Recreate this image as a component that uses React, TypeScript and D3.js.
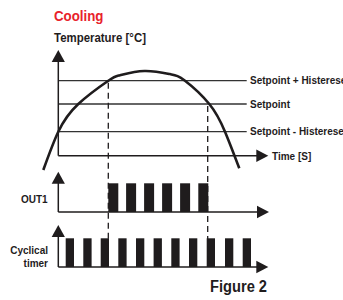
import React from "react";
import * as d3 from "d3";

// ---- data (time units ~ seconds, temperature in arbitrary units) ----
const levelNames = ["Setpoint + Histerese", "Setpoint", "Setpoint - Histerese"];
const levelValues = [75, 51.7, 24];
const curveTimes = [-15, 0, 20, 50, 61.7, 86, 111.7, 126.7, 151, 166.7, 181];
const curveTemps = [-14.3, 24, 51.7, 75, 80.5, 84.7, 81.6, 75, 51.7, 24, -12.6];
const switchTimes = [50, 149.4];
const out1Starts = [50, 67.8, 85.8, 103.8, 121.8, 140];
const out1Width = 10;
const cycStarts = [7.4, 25, 42.4, 60, 77.7, 95.3, 113, 130.7, 148.4, 166.7, 184.4];
const cycWidth = 8.3;

const W = 343;
const H = 300;
const X0 = 58.3;
const ink = "#1f1c1d";
const FONT = "'Liberation Sans', Arial, sans-serif";

export default function App() {
  const x = d3.scaleLinear().domain([0, 210]).range([X0, X0 + 210]);
  const y = d3.scaleLinear().domain([0, 105.7]).range([155.7, 50]);
  const yOut = d3.scaleLinear().domain([0, 1]).range([212, 183.3]);
  const yCyc = d3.scaleLinear().domain([0, 1]).range([267, 238.3]);

  const line = d3
    .line<number>()
    .x((_, i) => x(curveTimes[i]))
    .y((d) => y(d))
    .curve(d3.curveNatural);

  const upArrow = (tipY: number) =>
    `M${X0},${tipY} L${X0 - 6.6},${tipY + 12} L${X0 + 6.6},${tipY + 12} Z`;
  const rightArrow = (tipX: number, yy: number) =>
    `M${tipX},${yy} L${tipX - 12},${yy - 6.3} L${tipX - 12},${yy + 6.3} Z`;

  const tEnd = x(210);

  return (
    <svg
      width={W}
      height={H}
      style={{ position: "absolute", left: 0, top: 0, background: "#fff" }}
      fontFamily={FONT}
      fontWeight="bold"
    >
      <rect width={W} height={H} fill="#fff" />
      {/* titles */}
      <text x={54} y={20.5} fill="#e8222b" fontSize={14} textLength={49.5} lengthAdjust="spacingAndGlyphs">
        Cooling
      </text>
      <text x={54} y={41.5} fill={ink} fontSize={12} textLength={92} lengthAdjust="spacingAndGlyphs">
        Temperature [°C]
      </text>

      {/* temperature level lines */}
      {levelValues.map((v, i) => (
        <g key={i}>
          <line x1={X0} x2={246.7} y1={y(v)} y2={y(v)} stroke="#333" strokeWidth={1.3} />
          <text x={250} y={y(v) + 3.6} fill={ink} fontSize={10}>
            {levelNames[i]}
          </text>
        </g>
      ))}

      {/* temperature axis */}
      <line x1={X0} x2={X0} y1={61} y2={y(0)} stroke={ink} strokeWidth={1.5} />
      <path d={upArrow(y(105.7))} fill={ink} />
      <line x1={X0} x2={tEnd - 11} y1={y(0)} y2={y(0)} stroke={ink} strokeWidth={1.5} />
      <path d={rightArrow(tEnd, y(0))} fill={ink} />
      <text x={272} y={160} fill={ink} fontSize={10}>
        Time [S]
      </text>

      {/* temperature curve */}
      <path d={line(curveTemps) || ""} fill="none" stroke={ink} strokeWidth={2.6} />

      {/* OUT1 pulses */}
      {out1Starts.map((s, i) => (
        <rect key={i} x={x(s)} y={yOut(1)} width={x(s + out1Width) - x(s)} height={yOut(0) - yOut(1)} fill={ink} />
      ))}
      {/* Cyclical timer pulses */}
      {cycStarts.map((s, i) => (
        <rect key={i} x={x(s)} y={yCyc(1)} width={x(s + cycWidth) - x(s)} height={yCyc(0) - yCyc(1)} fill={ink} />
      ))}

      {/* dashed switching lines */}
      {switchTimes.map((t, i) => (
        <line
          key={i}
          x1={x(t)}
          x2={x(t)}
          y1={y(levelValues[i]) + 2}
          y2={267}
          stroke={ink}
          strokeWidth={1.3}
          strokeDasharray="6,4"
        />
      ))}

      {/* OUT1 axis */}
      <line x1={X0} x2={X0} y1={182} y2={yOut(0)} stroke={ink} strokeWidth={1.5} />
      <path d={upArrow(171.7)} fill={ink} />
      <line x1={X0} x2={tEnd - 11} y1={yOut(0)} y2={yOut(0)} stroke={ink} strokeWidth={1.5} />
      <path d={rightArrow(tEnd + 0.7, yOut(0))} fill={ink} />
      <text x={47.7} y={203} fill={ink} fontSize={10} textAnchor="end">
        OUT1
      </text>

      {/* Cyclical timer axis */}
      <line x1={X0} x2={X0} y1={236} y2={yCyc(0)} stroke={ink} strokeWidth={1.5} />
      <path d={upArrow(225)} fill={ink} />
      <line x1={X0} x2={tEnd - 11} y1={yCyc(0)} y2={yCyc(0)} stroke={ink} strokeWidth={1.5} />
      <path d={rightArrow(tEnd, yCyc(0))} fill={ink} />
      <text x={48} y={253.5} fill={ink} fontSize={10} textAnchor="end">
        Cyclical
      </text>
      <text x={48} y={266.5} fill={ink} fontSize={10} textAnchor="end">
        timer
      </text>

      <text x={210} y={292} fill={ink} fontSize={16} textLength={57} lengthAdjust="spacingAndGlyphs" style={{ fontWeight: 600 }}>
        Figure 2
      </text>
    </svg>
  );
}
